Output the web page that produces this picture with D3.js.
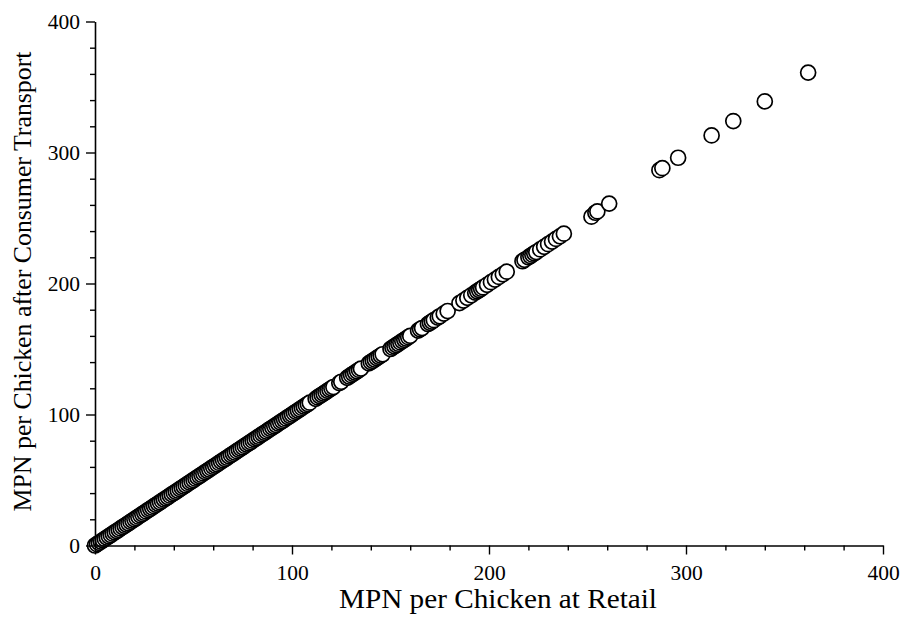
<!DOCTYPE html>
<html>
<head>
<meta charset="utf-8">
<script src="https://cdn.jsdelivr.net/npm/d3@7"></script>
<style>
  html, body { margin: 0; padding: 0; background: #fff; }
  svg { display: block; }
  text { font-family: "Liberation Serif", "Times New Roman", serif; fill: #000; }
</style>
</head>
<body>
<svg id="chart" width="903" height="617"></svg>
<script>
// MPN per chicken at retail (x) and after consumer transport (y)
const retail = [
  0,1,2,3,4,5,6,7,8,9,10,11,12,13,14,15,16,17,18,19,20,21,22,23,24,25,26,27,28,29,
  30,31,32,33,34,35,36,37,38,39,40,41,42,43,44,45,46,47,48,49,50,51,52,53,54,55,56,57,58,59,
  60,61,62,63,64,65,66,67,68,69,70,71,72,73,74,75,76,77,78,79,80,81,82,83,84,85,86,87,88,89,
  90,91,92,93,94,95,96,97,98,99,100,101,102,103,104,105,106,107,108,109,
  112,113,114,115,116,117,118,119,120,121,124,125,128,129,130,131,132,133,134,135,
  139,140,141,142,143,144,145,146,150,151,152,153,154,155,156,157,158,159,160,
  164,165,166,169,170,171,172,174,175,177,179,185,187,189,191,193,194,195,196,197,
  199,201,203,205,207,209,217,218,220,221,222,223,224,226,228,230,232,234,236,238,
  252,254,255,261,286.5,288,296,313,324,340,362
];
const transport = [
  0,1,2,3,4,5,6,7,8,9,10,11,12,13,14,15,16,17,18,19,20,21,22,23,24,25,26,27,28,29,
  30,31,32,33,34,35,36,37,38,39,40,41,42,43,44,45,46,47,48,49,50,51,52,53,54,55,56,57,58,59,
  60,61,62,63,64,65,66,67,68,69,70,71,72,73,74,75,76,77,78,79,80,81,82,83,84,85,86,87,88,89,
  90,91,92,93,94,95,96,97,98,99,100,101,102,103,104,105,106,107,108,109,
  112,113,114,115,116,117,118,119,120,121,124,125,128,129,130,131,132,133,134,135,
  139,140,141,142,143,144,145,146,150,151,152,153,154,155,156,157,158,159,160,
  164,165,166,169,170,171,172,174,175,177,179,185,187,189,191,193,194,195,196,197,
  199,201,203,205,207,209,217,218,220,221,222,223,224,226,228,230,232,234,236,238,
  251,254,255,261,286.5,288,296,313,324,339,361
];
const majorTicks = [0, 100, 200, 300, 400];
const minorTicks = [20,40,60,80,120,140,160,180,220,240,260,280,320,340,360,380];
const xTitle = "MPN per Chicken at Retail";
const yTitle = "MPN per Chicken after Consumer Transport";

const svg = d3.select("#chart");
const x = d3.scaleLinear().domain([0, 400]).range([95, 883]);
const y = d3.scaleLinear().domain([0, 400]).range([545.5, 21.5]);

const pts = retail.map((v, i) => ({ x: v, y: transport[i] }));

// points (ascending, so higher values drawn on top)
svg.append("g")
  .selectAll("circle")
  .data(pts)
  .join("circle")
  .attr("cx", d => x(d.x))
  .attr("cy", d => y(d.y))
  .attr("r", 7.5)
  .attr("fill", "#fff")
  .attr("stroke", "#000")
  .attr("stroke-width", 1.7);

// axes
function styleAxis(g) {
  g.selectAll("path.domain").attr("stroke", "#000").attr("stroke-width", 1.6);
  g.selectAll(".tick line").attr("stroke", "#000").attr("stroke-width", 1.4);
}

svg.append("g")
  .attr("transform", `translate(0,${y(0)})`)
  .call(d3.axisBottom(x).tickValues(minorTicks).tickSize(5).tickFormat(""))
  .call(styleAxis)
  .call(g => g.select("path.domain").remove());

const xAxis = svg.append("g")
  .attr("transform", `translate(0,${y(0)})`)
  .call(d3.axisBottom(x).tickValues(majorTicks).tickSize(9).tickSizeOuter(0).tickPadding(10).tickFormat(d3.format("d")))
  .call(styleAxis);
xAxis.selectAll("text").attr("font-size", 21.5).attr("font-family", "Liberation Serif");

svg.append("g")
  .attr("transform", `translate(${x(0)},0)`)
  .call(d3.axisLeft(y).tickValues(minorTicks).tickSize(5).tickFormat(""))
  .call(styleAxis)
  .call(g => g.select("path.domain").remove());

const yAxis = svg.append("g")
  .attr("transform", `translate(${x(0)},0)`)
  .call(d3.axisLeft(y).tickValues(majorTicks).tickSize(9).tickSizeOuter(0).tickPadding(6).tickFormat(d3.format("d")))
  .call(styleAxis);
yAxis.selectAll("text").attr("font-size", 21.5).attr("font-family", "Liberation Serif");

// titles
svg.append("text")
  .attr("x", 498)
  .attr("y", 608)
  .attr("text-anchor", "middle")
  .attr("font-size", 27)
  .attr("textLength", 318)
  .attr("lengthAdjust", "spacingAndGlyphs")
  .text(xTitle);

svg.append("text")
  .attr("transform", "translate(31,281.5) rotate(-90)")
  .attr("text-anchor", "middle")
  .attr("font-size", 26)
  .attr("textLength", 460)
  .attr("lengthAdjust", "spacingAndGlyphs")
  .text(yTitle);
</script>
</body>
</html>
